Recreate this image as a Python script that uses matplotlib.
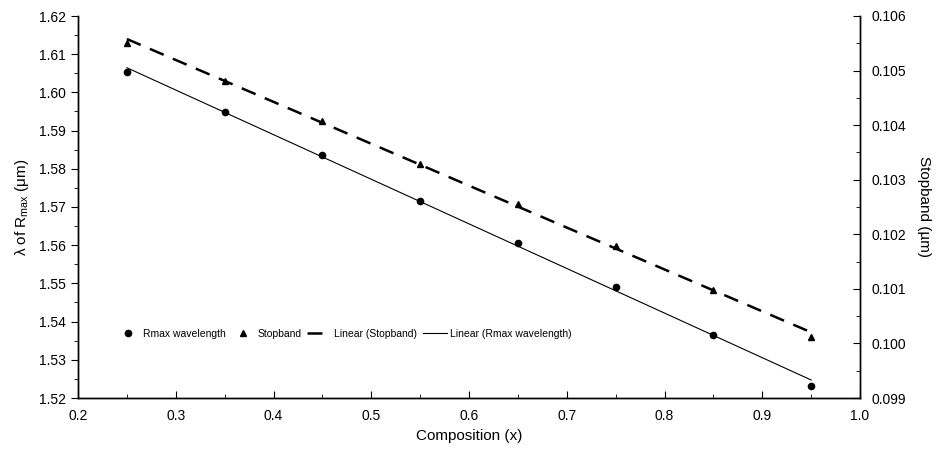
import numpy as np
import matplotlib
matplotlib.use("Agg")
from matplotlib import pyplot as plt
from matplotlib.ticker import MultipleLocator, FormatStrFormatter

plt.rcParams['font.family'] = ['Liberation Sans', 'DejaVu Sans']
plt.rcParams['mathtext.fontset'] = 'custom'
plt.rcParams['mathtext.rm'] = 'Liberation Sans'
plt.rcParams['mathtext.it'] = 'Liberation Sans'

# data
composition = [0.25, 0.35, 0.45, 0.55, 0.65, 0.75, 0.85, 0.95]
rmax_wavelength = [1.6053, 1.5948, 1.5836, 1.5716, 1.5607, 1.5490, 1.5365, 1.5232]
stopband = [0.10551, 0.10481, 0.10408, 0.10329, 0.10255, 0.10179, 0.10098, 0.10012]

x = np.array(composition)
fit_r = np.polyfit(x, rmax_wavelength, 1)
fit_s = np.polyfit(x, stopband, 1)

fig = plt.figure(figsize=(9.36, 4.59), dpi=100)
ax = fig.add_axes([78 / 936, 1 - 398 / 459, 782 / 936, 382 / 459])
ax2 = ax.twinx()

h1, = ax.plot(x, rmax_wavelength, 'o', color='black', markersize=4.5, label='Rmax wavelength')
h2, = ax2.plot(x, stopband, '^', color='black', markersize=4.5, label='Stopband')
h3, = ax2.plot(x, np.polyval(fit_s, x), color='black', lw=1.8, dashes=(6, 4),
               label='Linear (Stopband)')
h4, = ax.plot(x, np.polyval(fit_r, x), color='black', lw=0.8, label='Linear (Rmax wavelength)')

ax.set_xlim(0.2, 1.0)
ax.set_ylim(1.52, 1.62)
ax2.set_ylim(0.099, 0.106)

ax.xaxis.set_major_locator(MultipleLocator(0.1))
ax.xaxis.set_minor_locator(MultipleLocator(0.05))
ax.xaxis.set_major_formatter(FormatStrFormatter('%.1f'))
ax.yaxis.set_major_locator(MultipleLocator(0.01))
ax.yaxis.set_minor_locator(MultipleLocator(0.005))
ax.yaxis.set_major_formatter(FormatStrFormatter('%.2f'))
ax2.yaxis.set_major_locator(MultipleLocator(0.001))
ax2.yaxis.set_minor_locator(MultipleLocator(0.0005))
ax2.yaxis.set_major_formatter(FormatStrFormatter('%.3f'))

ax.tick_params(axis='x', which='both', direction='in', labelsize=10, pad=8, top=False)
ax.tick_params(axis='x', which='major', length=5)
ax.tick_params(axis='x', which='minor', length=3)
ax.tick_params(axis='y', which='major', direction='out', length=5, labelsize=10)
ax.tick_params(axis='y', which='minor', direction='out', length=3)
ax2.tick_params(axis='y', which='major', direction='in', length=5, labelsize=10, pad=8)
ax2.tick_params(axis='y', which='minor', direction='in', length=3)

for a in (ax, ax2):
    for s in a.spines.values():
        s.set_linewidth(1.0)
    a.spines['top'].set_visible(False)

ax.set_xlabel('Composition (x)', fontsize=11, labelpad=4)
ax.set_ylabel(r'$\lambda$ of R$_{\mathrm{max}}$ ($\mathrm{\mu}$m)', fontsize=11, labelpad=6)
ax2.set_ylabel('Stopband (µm)', fontsize=11, rotation=270, labelpad=18)

ax.legend(handles=[h1, h2, h3, h4], loc='center left', bbox_to_anchor=(0.043, 0.168),
          ncol=4, frameon=False, fontsize=7.5, handlelength=2.3, columnspacing=0.5,
          handletextpad=0.3, borderaxespad=0)

fig.savefig('out.png', dpi=100)
